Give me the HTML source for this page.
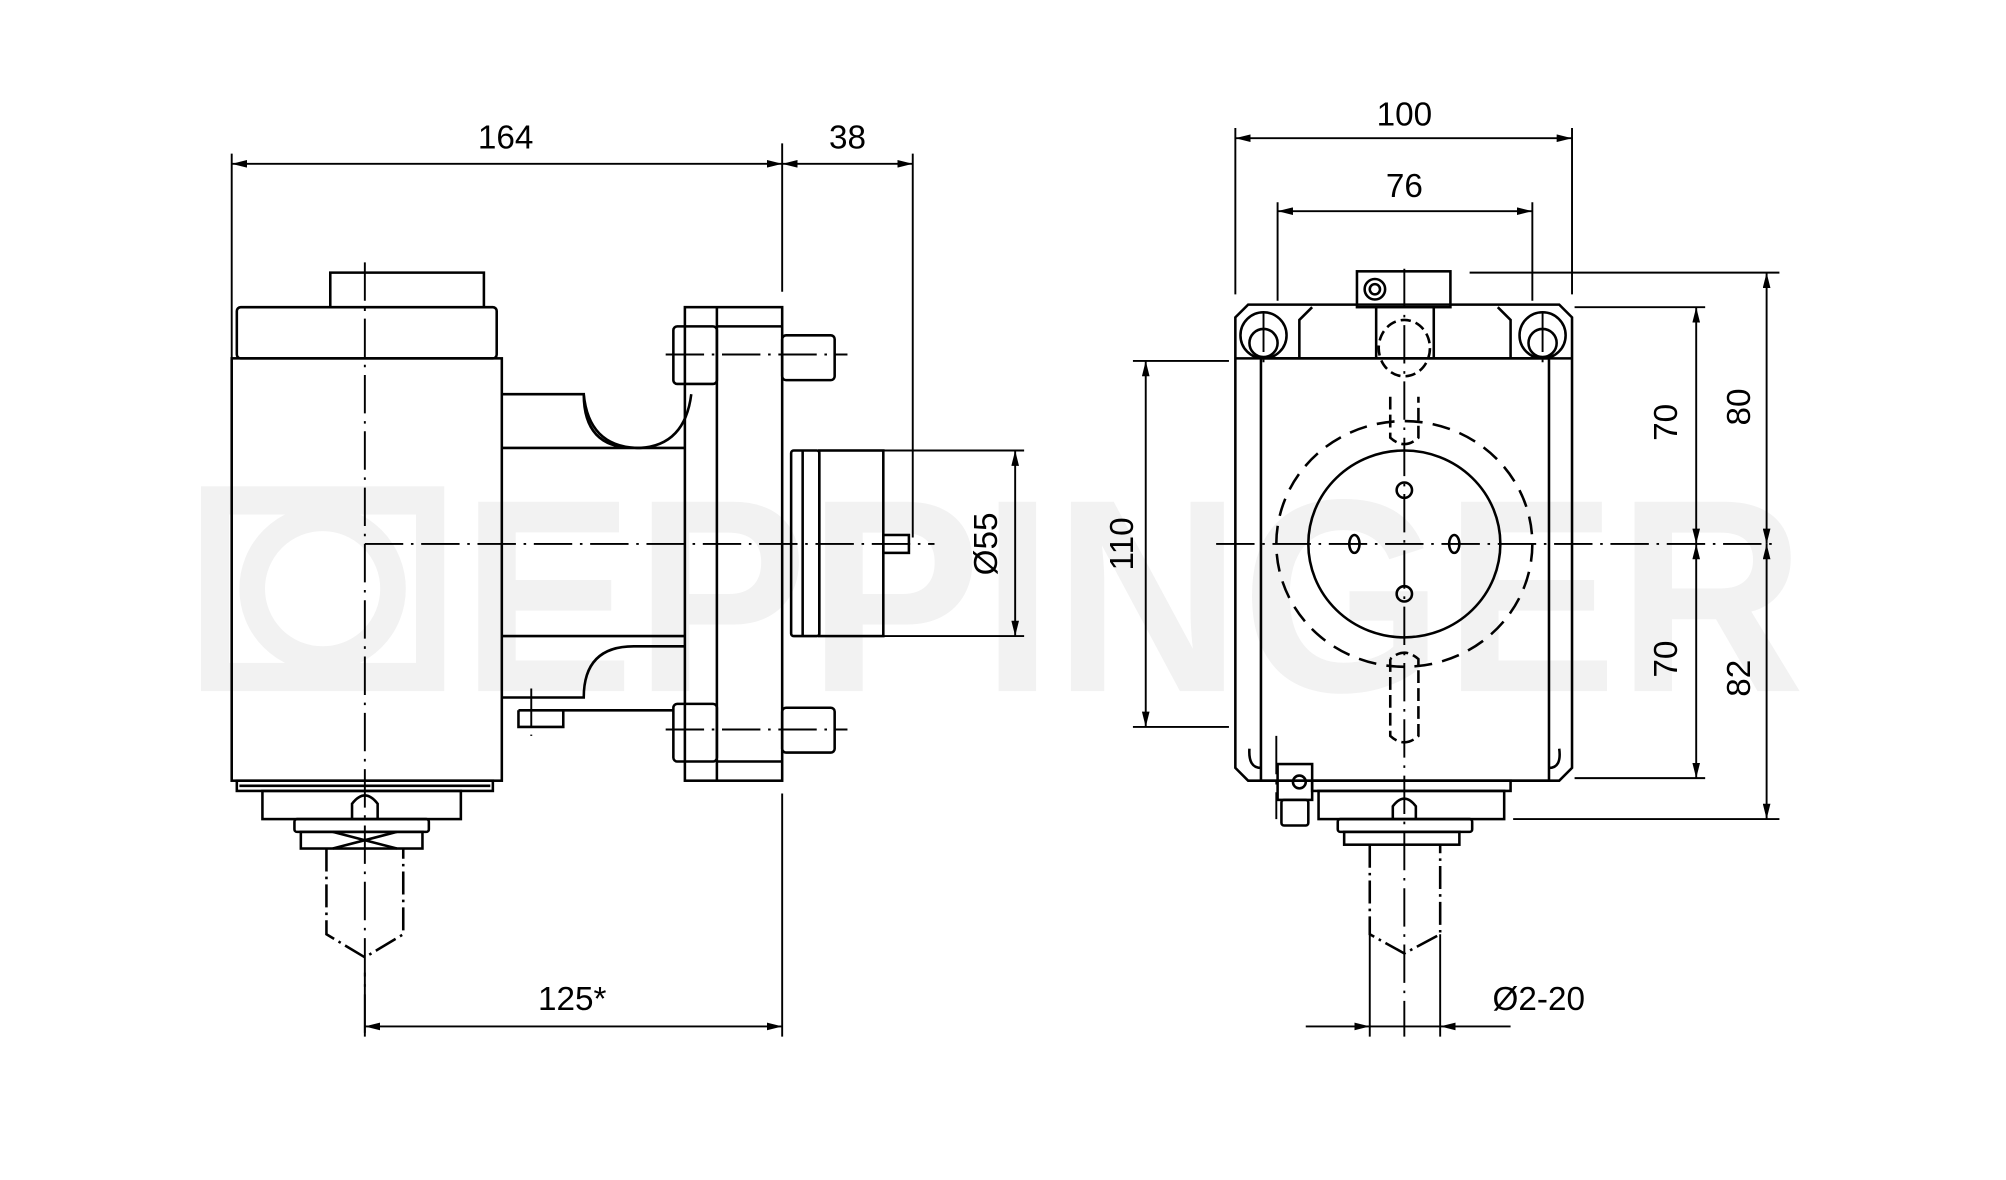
<!DOCTYPE html>
<html><head><meta charset="utf-8"><style>
html,body{margin:0;padding:0;background:#fff;}
svg{display:block;}
text{font-family:"Liberation Sans",sans-serif;fill:#000;}
</style></head><body>
<svg width="2006" height="1180" viewBox="0 0 1567 922" preserveAspectRatio="none" xmlns="http://www.w3.org/2000/svg">
<defs>
<marker id="a" viewBox="0 0 12 6" refX="12" refY="3" markerWidth="12" markerHeight="6" orient="auto-start-reverse" markerUnits="userSpaceOnUse"><path d="M0,0L12,3L0,6z" fill="#000"/></marker>
</defs>
<rect width="1567" height="922" fill="#fff"/>
<!-- watermark -->
<text x="360" y="540" font-size="215" font-weight="bold" style="fill:#f2f2f2" textLength="1050" lengthAdjust="spacingAndGlyphs">EPPINGER</text>
<rect x="168" y="391" width="168" height="138" fill="none" stroke="#f2f2f2" stroke-width="22"/>
<circle cx="252" cy="460" r="55" fill="none" stroke="#f2f2f2" stroke-width="20"/>

<g fill="none" stroke="#000" stroke-width="2">
<!-- LEFT VIEW -->
<path d="M258,240V213H378V240"/>
<rect x="185" y="240" width="203" height="40" rx="3"/>
<rect x="181" y="280" width="211" height="330"/>
<path d="M392,308H456Q456,350 495,350H535M392,350H535"/>
<path d="M392,497H535M392,545H456Q456,505 495,505H535"/>
<path d="M456,308Q460,350 500,350Q535,348 540,308"/>
<rect x="535" y="240" width="76" height="370"/>
<path d="M560,240V610M560,255H611M560,595H611"/>
<rect x="526" y="255" width="34" height="45" rx="3"/>
<rect x="526" y="550" width="34" height="45" rx="3"/>
<rect x="611" y="262" width="41" height="35" rx="3"/>
<rect x="611" y="553" width="41" height="35" rx="3"/>
<path d="M405,555H526M405,555V568H440V555"/>
<rect x="618" y="352" width="22" height="145" rx="2"/>
<path d="M627,352V497"/>
<rect x="640" y="352" width="50" height="145"/>
<rect x="690" y="418" width="20" height="14"/>
<rect x="185" y="610" width="200" height="8"/>
<path d="M187,614H383"/>
<rect x="205" y="618" width="155" height="22"/>
<rect x="230" y="640" width="105" height="10" rx="2"/>
<rect x="235" y="650" width="95" height="13"/>
<path d="M260,650L310,663M260,663L310,650"/>
<path d="M275,640V628Q285,615 295,628V640"/>
<path d="M255,663V730L285,748L315,730V663" stroke-dasharray="18,4,2,4"/>

<!-- RIGHT VIEW -->
<path d="M975,238H1218L1228,248V600L1218,610H975L965,600V248Z"/>
<rect x="985" y="280" width="225" height="330"/>
<path d="M965,280H1228"/>
<path d="M1015,280V250L1025,240M1180,280V250L1170,240"/>
<rect x="1060" y="212" width="73" height="28"/>
<path d="M1075,240V280M1120,240V280"/>
<circle cx="1074" cy="226" r="8"/><circle cx="1074" cy="226" r="4"/>
<circle cx="987" cy="262" r="18"/><circle cx="987" cy="268" r="11"/>
<circle cx="1205" cy="262" r="18"/><circle cx="1205" cy="268" r="11"/>
<path d="M976,585Q975,600 985,600M1218,585Q1220,600 1210,600"/>
<ellipse cx="1097" cy="425" rx="75" ry="73"/>
<ellipse cx="1097" cy="425" rx="100" ry="96" stroke-dasharray="14,8"/>
<ellipse cx="1097" cy="272" rx="20" ry="22" stroke-dasharray="8,4"/>
<path d="M1086,310V342Q1097,352 1108,342V310" stroke-dasharray="10,4"/>
<path d="M1086,515V575Q1097,585 1108,575V515Q1097,505 1086,515" stroke-dasharray="10,4"/>
<circle cx="1097" cy="383" r="6"/><circle cx="1097" cy="464" r="6"/>
<ellipse cx="1058" cy="425" rx="4" ry="7"/><ellipse cx="1136" cy="425" rx="4" ry="7"/>
<rect x="998" y="597" width="27" height="28"/>
<rect x="1001" y="625" width="21" height="20" rx="2"/>
<circle cx="1015" cy="611" r="5"/>
<rect x="1025" y="610" width="155" height="8"/>
<rect x="1030" y="618" width="145" height="22"/>
<rect x="1045" y="640" width="105" height="10" rx="2"/>
<rect x="1050" y="650" width="90" height="10"/>
<path d="M1088,640V630Q1097,618 1106,630V640"/>
<path d="M1070,660V730L1097,745L1125,730V660" stroke-dasharray="18,4,2,4"/>
</g>

<!-- centerlines -->
<g fill="none" stroke="#000" stroke-width="1.5" stroke-dasharray="30,6,2,6">
<path d="M285,205V810M285,425H730M520,277H662M520,570H662M415,538V575"/>
<path d="M1097,210V810M950,425H1390M997,575V640M987,245V285M1205,245V285"/>
</g>

<!-- dimension lines -->
<g fill="none" stroke="#000" stroke-width="1.5">
<path d="M181,120V280M611,112V228M611,620V810M713,120V420M285,760V810"/>
<path d="M181,128H611" marker-start="url(#a)" marker-end="url(#a)"/>
<path d="M611,128H713" marker-start="url(#a)" marker-end="url(#a)"/>
<path d="M285,802H611" marker-start="url(#a)" marker-end="url(#a)"/>
<path d="M690,352H800M690,497H800"/>
<path d="M793,352V497" marker-start="url(#a)" marker-end="url(#a)"/>
<path d="M965,100V230M1228,100V230M998,158V235M1197,158V235"/>
<path d="M965,108H1228" marker-start="url(#a)" marker-end="url(#a)"/>
<path d="M998,165H1197" marker-start="url(#a)" marker-end="url(#a)"/>
<path d="M885,282H960M885,568H960"/>
<path d="M895,282V568" marker-start="url(#a)" marker-end="url(#a)"/>
<path d="M1230,240H1332M1230,608H1332M1148,213H1390M1182,640H1390"/>
<path d="M1325,240V425" marker-start="url(#a)" marker-end="url(#a)"/>
<path d="M1325,425V608" marker-start="url(#a)" marker-end="url(#a)"/>
<path d="M1380,213V425" marker-start="url(#a)" marker-end="url(#a)"/>
<path d="M1380,425V640" marker-start="url(#a)" marker-end="url(#a)"/>
<path d="M1070,730V810M1125,730V810"/>
<path d="M1020,802H1070" marker-end="url(#a)"/>
<path d="M1180,802H1125" marker-end="url(#a)"/>
<path d="M1070,802H1125"/>
</g>

<g font-size="26">
<text x="395" y="116" text-anchor="middle">164</text>
<text x="662" y="116" text-anchor="middle">38</text>
<text x="447" y="789" text-anchor="middle">125*</text>
<text x="1097" y="98" text-anchor="middle">100</text>
<text x="1097" y="154" text-anchor="middle">76</text>
<text x="1202" y="789" text-anchor="middle">Ø2-20</text>
<text transform="translate(779,425) rotate(-90)" text-anchor="middle">Ø55</text>
<text transform="translate(885,425) rotate(-90)" text-anchor="middle">110</text>
<text transform="translate(1310,330) rotate(-90)" text-anchor="middle">70</text>
<text transform="translate(1310,515) rotate(-90)" text-anchor="middle">70</text>
<text transform="translate(1367,318) rotate(-90)" text-anchor="middle">80</text>
<text transform="translate(1367,530) rotate(-90)" text-anchor="middle">82</text>
</g>
</svg>
</body></html>
